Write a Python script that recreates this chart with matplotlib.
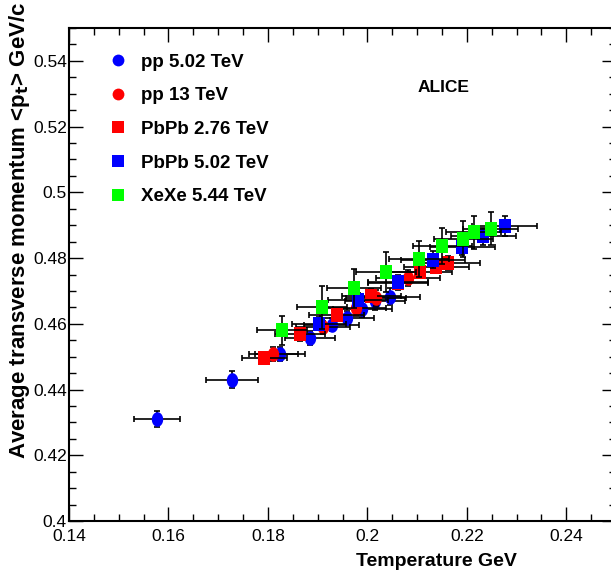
import matplotlib.pyplot as plt
from matplotlib.path import Path
import numpy as np

plt.rcParams['font.family'] = ['Liberation Sans', 'DejaVu Sans']

# temperature (GeV) and mean pt (GeV/c)
pp502_T = [0.1577, 0.1728, 0.1824, 0.1884, 0.1928, 0.1959, 0.1990, 0.2016, 0.2045]
pp502_pt = [0.4310, 0.4430, 0.4508, 0.4557, 0.4597, 0.4618, 0.4645, 0.4668, 0.4683]
pp502_dT = [0.0047, 0.0052, 0.0050, 0.0050, 0.0055, 0.0055, 0.0060, 0.0060, 0.0060]
pp502_dpt = [0.0025, 0.0025, 0.0020, 0.0020, 0.0020, 0.0020, 0.0025, 0.0025, 0.0025]

pp13_T = [0.1811, 0.1911, 0.1977, 0.2018, 0.2082]
pp13_pt = [0.4508, 0.4590, 0.4648, 0.4678, 0.4740]
pp13_dT = [0.0050, 0.0055, 0.0060, 0.0060, 0.0065]
pp13_dpt = [0.0020, 0.0020, 0.0025, 0.0025, 0.0025]

pb276_T = [0.1793, 0.1864, 0.1938, 0.2008, 0.2062, 0.2106, 0.2139, 0.2162]
pb276_pt = [0.4497, 0.4568, 0.4627, 0.4685, 0.4724, 0.4759, 0.4774, 0.4785]
pb276_dT = [0.0045, 0.0050, 0.0055, 0.0060, 0.0060, 0.0065, 0.0065, 0.0065]
pb276_dpt = [0.0015, 0.0020, 0.0020, 0.0020, 0.0020, 0.0020, 0.0020, 0.0020]

pb502_T = [0.1903, 0.1981, 0.2062, 0.2132, 0.2191, 0.2233, 0.2276]
pb502_pt = [0.4600, 0.4673, 0.4728, 0.4795, 0.4835, 0.4866, 0.4898]
pb502_dT = [0.0055, 0.0060, 0.0060, 0.0065, 0.0065, 0.0065, 0.0065]
pb502_dpt = [0.0020, 0.0020, 0.0020, 0.0025, 0.0025, 0.0025, 0.0030]

xe544_T = [0.1829, 0.1909, 0.1973, 0.2037, 0.2104, 0.2151, 0.2193, 0.2214, 0.2248]
xe544_pt = [0.4580, 0.4650, 0.4708, 0.4757, 0.4798, 0.4838, 0.4858, 0.4879, 0.4889]
xe544_dT = [0.0050, 0.0050, 0.0055, 0.0060, 0.0060, 0.0060, 0.0060, 0.0055, 0.0055]
xe544_dpt = [0.0045, 0.0065, 0.0060, 0.0060, 0.0055, 0.0055, 0.0055, 0.0050, 0.0050]

# ROOT-like markers, taller than wide (stretched canvas)
t = np.linspace(0, 2 * np.pi, 60)
oval = Path(np.column_stack([0.78 * np.cos(t), np.sin(t)]), closed=True)
box = Path([(-0.78, -1), (0.78, -1), (0.78, 1), (-0.78, 1), (-0.78, -1)], closed=True)

fig = plt.figure(figsize=(6.11, 5.76), dpi=100)
ax = fig.add_axes([69 / 611, 55 / 576, 547 / 611, 493 / 576])

series = [
    (pp502_T, pp502_pt, pp502_dT, pp502_dpt, oval, 'o', 'blue', 'pp 5.02 TeV'),
    (pp13_T, pp13_pt, pp13_dT, pp13_dpt, oval, 'o', 'red', 'pp 13 TeV'),
    (pb276_T, pb276_pt, pb276_dT, pb276_dpt, box, 's', 'red', 'PbPb 2.76 TeV'),
    (pb502_T, pb502_pt, pb502_dT, pb502_dpt, box, 's', 'blue', 'PbPb 5.02 TeV'),
    (xe544_T, xe544_pt, xe544_dT, xe544_dpt, box, 's', '#00ff00', 'XeXe 5.44 TeV'),
]
handles = []
for x, y, dx, dy, m, lm, c, lab in series:
    ax.errorbar(x, y, xerr=dx, yerr=dy, fmt='none', ecolor='black',
                elinewidth=1.2, capsize=2.5, capthick=1.2)
    ax.plot(x, y, linestyle='none', marker=m, markersize=10.5, color=c,
            markeredgewidth=0)
    handles.append(plt.Line2D([], [], linestyle='none', marker=lm,
                              markersize=8.5, color=c, markeredgewidth=0,
                              label=lab))

ax.set_xlim(0.14, 0.25)
ax.set_ylim(0.40, 0.55)
ax.set_xticks(np.arange(0.14, 0.2401, 0.02))
ax.set_xticks(np.arange(0.14, 0.25, 0.005), minor=True)
ax.set_yticks(np.arange(0.40, 0.5401, 0.02))
ax.set_yticks(np.arange(0.40, 0.55, 0.005), minor=True)
ax.set_xticklabels(['0.14', '0.16', '0.18', '0.2', '0.22', '0.24'])
ax.set_yticklabels(['0.4', '0.42', '0.44', '0.46', '0.48', '0.5', '0.52', '0.54'])
ax.tick_params(which='both', direction='in', top=True, right=True,
               labelsize=12.5, width=1)
ax.tick_params(which='major', length=10)
ax.tick_params(which='minor', length=5)
ax.tick_params(axis='x', pad=6)
ax.tick_params(axis='y', pad=1.5)
for s in ax.spines.values():
    s.set_linewidth(1.5)

ax.set_xlabel('Temperature GeV', fontsize=14, fontweight='bold', loc='right')
ax.set_ylabel('Average transverse momentum <p$_\\mathbf{t}$> GeV/c', fontsize=16,
              fontweight='bold', loc='top')
ax.xaxis.set_label_coords(448 / 547, -32 / 493)
ax.yaxis.set_label_coords(-37 / 547, 1.054)

ax.text((443 - 69) / 547, (521 - 87) / 493, 'ALICE', transform=ax.transAxes,
        fontsize=12.5, fontweight='bold', ha='center', va='center')

ax.legend(handles=handles, loc='upper left', frameon=False,
          bbox_to_anchor=(34 / 547, (521 - 46) / 493),
          prop={'weight': 'bold', 'size': 13.5}, handlelength=0.8,
          handletextpad=0.85, labelspacing=0.88, borderaxespad=0)

fig.savefig('out.png', dpi=100)
